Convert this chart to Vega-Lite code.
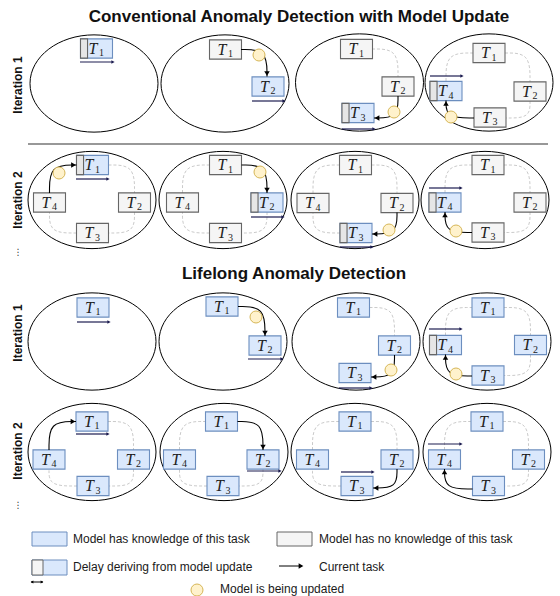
{
"$schema": "https://vega.github.io/schema/vega-lite/v6.json",
"width": 560, "height": 596, "padding": 0,
"autosize": {"type": "none"},
"background": "white",
"config": {"view": {"stroke": null}},
"datasets": {
"sep": [{"x": 28, "x2": 548, "y": 144}],
"ell": [
{"x":94,"y":83.5},{"x":225,"y":83.5},{"x":359.5,"y":82.5},{"x":489,"y":82.5},
{"x":92,"y":200},{"x":223,"y":200},{"x":355,"y":200},{"x":485,"y":200},
{"x":92,"y":341.5},{"x":223,"y":341.5},{"x":356,"y":341.5},{"x":487,"y":341.5},
{"x":92,"y":452},{"x":224,"y":452},{"x":355,"y":452},{"x":487,"y":452}],
"box": [
{"x":96.5,"y":48.5,"n":"1","k":"y","d":1},
{"x":225.5,"y":49.5,"n":"1","k":"n","d":0},{"x":268,"y":86.5,"n":"2","k":"y","d":0},
{"x":356.5,"y":49,"n":"1","k":"n","d":0},{"x":398,"y":86.5,"n":"2","k":"n","d":0},{"x":358,"y":113,"n":"3","k":"y","d":1},
{"x":489,"y":53,"n":"1","k":"n","d":0},{"x":530,"y":91.5,"n":"2","k":"n","d":0},{"x":490,"y":117.5,"n":"3","k":"n","d":0},{"x":446,"y":91,"n":"4","k":"y","d":1},
{"x":92.5,"y":165,"n":"1","k":"y","d":1},{"x":134.5,"y":202.5,"n":"2","k":"n","d":0},{"x":92.5,"y":233,"n":"3","k":"n","d":0},{"x":49.5,"y":202.5,"n":"4","k":"n","d":0},
{"x":225.5,"y":165,"n":"1","k":"n","d":0},{"x":267,"y":202.5,"n":"2","k":"y","d":1},{"x":225.5,"y":233,"n":"3","k":"n","d":0},{"x":182.5,"y":202.5,"n":"4","k":"n","d":0},
{"x":355.5,"y":165,"n":"1","k":"n","d":0},{"x":397,"y":203,"n":"2","k":"n","d":0},{"x":356,"y":233,"n":"3","k":"y","d":1},{"x":313,"y":203,"n":"4","k":"n","d":0},
{"x":488,"y":165,"n":"1","k":"n","d":0},{"x":530,"y":202.5,"n":"2","k":"n","d":0},{"x":488,"y":232.5,"n":"3","k":"n","d":0},{"x":445,"y":202.5,"n":"4","k":"y","d":1},
{"x":93,"y":307.5,"n":"1","k":"y","d":0},
{"x":222,"y":306.5,"n":"1","k":"y","d":0},{"x":265,"y":345.5,"n":"2","k":"y","d":0},
{"x":353.5,"y":307.5,"n":"1","k":"y","d":0},{"x":394.5,"y":345.5,"n":"2","k":"y","d":0},{"x":355,"y":373,"n":"3","k":"y","d":0},
{"x":488,"y":307.5,"n":"1","k":"y","d":0},{"x":530.5,"y":345,"n":"2","k":"y","d":0},{"x":488,"y":375.5,"n":"3","k":"y","d":0},{"x":445.5,"y":345,"n":"4","k":"y","d":1},
{"x":92,"y":421.5,"n":"1","k":"y","d":0},{"x":133.5,"y":459.5,"n":"2","k":"y","d":0},{"x":93,"y":486,"n":"3","k":"y","d":0},{"x":49,"y":459.5,"n":"4","k":"y","d":0},
{"x":221.5,"y":421.5,"n":"1","k":"y","d":0},{"x":263,"y":459.5,"n":"2","k":"y","d":0},{"x":223,"y":486,"n":"3","k":"y","d":0},{"x":179.5,"y":459.5,"n":"4","k":"y","d":0},
{"x":355,"y":421.5,"n":"1","k":"y","d":0},{"x":397,"y":459.5,"n":"2","k":"y","d":0},{"x":357,"y":486,"n":"3","k":"y","d":0},{"x":312.5,"y":459.5,"n":"4","k":"y","d":0},
{"x":487,"y":421.5,"n":"1","k":"y","d":0},{"x":528.5,"y":459.5,"n":"2","k":"y","d":0},{"x":488.5,"y":486,"n":"3","k":"y","d":0},{"x":444.5,"y":459.5,"n":"4","k":"y","d":0}],
"dash": [
{"id":"d1","o":0,"x":372,"y":49},{"id":"d1","o":1,"x":398,"y":49},{"id":"d1","o":2,"x":398,"y":77},
{"id":"d2","o":0,"x":446,"y":81},{"id":"d2","o":1,"x":446,"y":53},{"id":"d2","o":2,"x":473,"y":53},
{"id":"d3","o":0,"x":505,"y":53},{"id":"d3","o":1,"x":530,"y":53},{"id":"d3","o":2,"x":530,"y":82},
{"id":"d4","o":0,"x":530,"y":101},{"id":"d4","o":1,"x":530,"y":118},{"id":"d4","o":2,"x":506,"y":118},
{"id":"d5","o":0,"x":108.5,"y":165},{"id":"d5","o":1,"x":134.5,"y":165},{"id":"d5","o":2,"x":134.5,"y":193},
{"id":"d6","o":0,"x":134.5,"y":212},{"id":"d6","o":1,"x":134.5,"y":233},{"id":"d6","o":2,"x":108.5,"y":233},
{"id":"d7","o":0,"x":76.5,"y":233},{"id":"d7","o":1,"x":49.5,"y":233},{"id":"d7","o":2,"x":49.5,"y":212},
{"id":"d8","o":0,"x":182.5,"y":193},{"id":"d8","o":1,"x":182.5,"y":165},{"id":"d8","o":2,"x":209.5,"y":165},
{"id":"d9","o":0,"x":267,"y":212},{"id":"d9","o":1,"x":267,"y":233},{"id":"d9","o":2,"x":241.5,"y":233},
{"id":"d10","o":0,"x":209.5,"y":233},{"id":"d10","o":1,"x":182.5,"y":233},{"id":"d10","o":2,"x":182.5,"y":212},
{"id":"d11","o":0,"x":313,"y":193.5},{"id":"d11","o":1,"x":313,"y":165},{"id":"d11","o":2,"x":339.5,"y":165},
{"id":"d12","o":0,"x":371.5,"y":165},{"id":"d12","o":1,"x":397,"y":165},{"id":"d12","o":2,"x":397,"y":193.5},
{"id":"d13","o":0,"x":340,"y":233},{"id":"d13","o":1,"x":313,"y":233},{"id":"d13","o":2,"x":313,"y":212.5},
{"id":"d14","o":0,"x":445,"y":193},{"id":"d14","o":1,"x":445,"y":165},{"id":"d14","o":2,"x":472,"y":165},
{"id":"d15","o":0,"x":504,"y":165},{"id":"d15","o":1,"x":530,"y":165},{"id":"d15","o":2,"x":530,"y":193},
{"id":"d16","o":0,"x":530,"y":212},{"id":"d16","o":1,"x":530,"y":232.5},{"id":"d16","o":2,"x":504,"y":232.5},
{"id":"d17","o":0,"x":369.5,"y":307.5},{"id":"d17","o":1,"x":394.5,"y":307.5},{"id":"d17","o":2,"x":394.5,"y":336},
{"id":"d18","o":0,"x":445.5,"y":335.5},{"id":"d18","o":1,"x":445.5,"y":307.5},{"id":"d18","o":2,"x":472,"y":307.5},
{"id":"d19","o":0,"x":504,"y":307.5},{"id":"d19","o":1,"x":530.5,"y":307.5},{"id":"d19","o":2,"x":530.5,"y":335.5},
{"id":"d20","o":0,"x":530.5,"y":354.5},{"id":"d20","o":1,"x":530.5,"y":375.5},{"id":"d20","o":2,"x":504,"y":375.5},
{"id":"d21","o":0,"x":108,"y":421.5},{"id":"d21","o":1,"x":133.5,"y":421.5},{"id":"d21","o":2,"x":133.5,"y":450},
{"id":"d22","o":0,"x":133.5,"y":469},{"id":"d22","o":1,"x":133.5,"y":486},{"id":"d22","o":2,"x":109,"y":486},
{"id":"d23","o":0,"x":77,"y":486},{"id":"d23","o":1,"x":49,"y":486},{"id":"d23","o":2,"x":49,"y":469},
{"id":"d24","o":0,"x":179.5,"y":450},{"id":"d24","o":1,"x":179.5,"y":421.5},{"id":"d24","o":2,"x":205.5,"y":421.5},
{"id":"d25","o":0,"x":263,"y":469},{"id":"d25","o":1,"x":263,"y":486},{"id":"d25","o":2,"x":239,"y":486},
{"id":"d26","o":0,"x":207,"y":486},{"id":"d26","o":1,"x":179.5,"y":486},{"id":"d26","o":2,"x":179.5,"y":469},
{"id":"d27","o":0,"x":312.5,"y":450},{"id":"d27","o":1,"x":312.5,"y":421.5},{"id":"d27","o":2,"x":339,"y":421.5},
{"id":"d28","o":0,"x":371,"y":421.5},{"id":"d28","o":1,"x":397,"y":421.5},{"id":"d28","o":2,"x":397,"y":450},
{"id":"d29","o":0,"x":341,"y":486},{"id":"d29","o":1,"x":312.5,"y":486},{"id":"d29","o":2,"x":312.5,"y":469},
{"id":"d30","o":0,"x":444.5,"y":450},{"id":"d30","o":1,"x":444.5,"y":421.5},{"id":"d30","o":2,"x":471,"y":421.5},
{"id":"d31","o":0,"x":503,"y":421.5},{"id":"d31","o":1,"x":528.5,"y":421.5},{"id":"d31","o":2,"x":528.5,"y":450},
{"id":"d32","o":0,"x":528.5,"y":469},{"id":"d32","o":1,"x":528.5,"y":486},{"id":"d32","o":2,"x":504.5,"y":486}],
"arr": [
{"id":"a1","o":0,"x":241,"y":49.5},{"id":"a1","o":1,"x":267,"y":49.5},{"id":"a1","o":2,"x":267,"y":76.5},
{"id":"a2","o":0,"x":398,"y":96},{"id":"a2","o":1,"x":398,"y":118},{"id":"a2","o":2,"x":374,"y":118},
{"id":"a3","o":0,"x":474,"y":118},{"id":"a3","o":1,"x":446,"y":118},{"id":"a3","o":2,"x":446,"y":100.5},
{"id":"a4","o":0,"x":49.5,"y":193},{"id":"a4","o":1,"x":49.5,"y":165},{"id":"a4","o":2,"x":76.5,"y":165},
{"id":"a5","o":0,"x":241.5,"y":165},{"id":"a5","o":1,"x":267,"y":165},{"id":"a5","o":2,"x":267,"y":193},
{"id":"a6","o":0,"x":397,"y":212.5},{"id":"a6","o":1,"x":397,"y":234},{"id":"a6","o":2,"x":372,"y":234},
{"id":"a7","o":0,"x":472,"y":232.5},{"id":"a7","o":1,"x":445,"y":232.5},{"id":"a7","o":2,"x":445,"y":212},
{"id":"a8","o":0,"x":238,"y":306.5},{"id":"a8","o":1,"x":265,"y":306.5},{"id":"a8","o":2,"x":265,"y":336},
{"id":"a9","o":0,"x":394.5,"y":355},{"id":"a9","o":1,"x":394.5,"y":377},{"id":"a9","o":2,"x":371,"y":377},
{"id":"a10","o":0,"x":472,"y":376},{"id":"a10","o":1,"x":445.5,"y":376},{"id":"a10","o":2,"x":445.5,"y":354.5},
{"id":"a11","o":0,"x":49,"y":450},{"id":"a11","o":1,"x":49,"y":421.5},{"id":"a11","o":2,"x":76,"y":421.5},
{"id":"a12","o":0,"x":237.5,"y":421.5},{"id":"a12","o":1,"x":263,"y":421.5},{"id":"a12","o":2,"x":263,"y":450},
{"id":"a13","o":0,"x":397,"y":469},{"id":"a13","o":1,"x":397,"y":488},{"id":"a13","o":2,"x":373,"y":488},
{"id":"a14","o":0,"x":472.5,"y":489},{"id":"a14","o":1,"x":444.5,"y":489},{"id":"a14","o":2,"x":444.5,"y":469}],
"heads": [
{"x":267,"y":73.5,"s":"triangle-down"},{"x":377,"y":118,"s":"triangle-left"},{"x":446,"y":103.5,"s":"triangle-up"},
{"x":73.5,"y":165,"s":"triangle-right"},{"x":267,"y":190,"s":"triangle-down"},{"x":375,"y":234,"s":"triangle-left"},{"x":445,"y":215,"s":"triangle-up"},
{"x":265,"y":333,"s":"triangle-down"},{"x":374,"y":377,"s":"triangle-left"},{"x":445.5,"y":357.5,"s":"triangle-up"},
{"x":73,"y":421.5,"s":"triangle-right"},{"x":263,"y":447,"s":"triangle-down"},{"x":376,"y":488,"s":"triangle-left"},{"x":444.5,"y":472,"s":"triangle-up"},
{"x":301,"y":566,"s":"triangle-right"}],
"dots": [
{"x":259,"y":55},{"x":394,"y":112},{"x":451,"y":117},
{"x":59,"y":173},{"x":260,"y":172},{"x":389,"y":230},{"x":456,"y":231},
{"x":256,"y":317},{"x":391,"y":370},{"x":456,"y":374},
{"x":197,"y":590}],
"cur": [
{"x":80,"x2":113,"y":62},{"x":252,"x2":284,"y":101},{"x":342,"x2":374,"y":129},{"x":430,"x2":462,"y":76},
{"x":76,"x2":108,"y":179},{"x":251,"x2":283,"y":217},{"x":340,"x2":372,"y":247},{"x":429,"x2":461,"y":188},
{"x":77,"x2":109,"y":322},{"x":248,"x2":282,"y":359},{"x":339,"x2":371,"y":388},{"x":429,"x2":461,"y":329},
{"x":76,"x2":108,"y":434},{"x":247,"x2":280,"y":471},{"x":341,"x2":373,"y":472},{"x":428,"x2":461,"y":444}],
"titles": [
{"x":299,"y":17,"t":"Conventional Anomaly Detection with Model Update"},
{"x":294,"y":274,"t":"Lifelong Anomaly Detection"}],
"iters": [
{"x":18,"y":85,"t":"Iteration 1"},{"x":18,"y":200,"t":"Iteration 2"},
{"x":18,"y":333,"t":"Iteration 1"},{"x":18,"y":451,"t":"Iteration 2"}],
"vdots": [{"x":18,"y":252,"t":"⋮"},{"x":18,"y":505,"t":"⋮"}],
"lrect": [
{"x":32,"x2":67,"y":532,"y2":546,"k":"y"},
{"x":277,"x2":312,"y":532,"y2":546,"k":"n"},
{"x":32,"x2":67,"y":560,"y2":575,"k":"y"},
{"x":32,"x2":43,"y":560,"y2":575,"k":"n"}],
"ltext": [
{"x":73,"y":539,"t":"Model has knowledge of this task"},
{"x":319,"y":539,"t":"Model has no knowledge of this task"},
{"x":73,"y":567,"t":"Delay deriving from model update"},
{"x":319,"y":567,"t":"Current task"},
{"x":220,"y":589,"t":"Model is being updated"}],
"lrule": [{"x":279,"x2":302,"y":566},{"x":31,"x2":43,"y":582}],
"lsmall": [{"x":32,"y":582,"s":"triangle-left"},{"x":42,"y":582,"s":"triangle-right"}]
},
"encoding": {
"x": {"field":"x","type":"quantitative","scale":{"domain":[0,560],"nice":false,"zero":false},"axis":null},
"y": {"field":"y","type":"quantitative","scale":{"domain":[0,596],"nice":false,"zero":false,"reverse":true},"axis":null}
},
"layer": [
{"data":{"name":"sep"},"mark":{"type":"rule","color":"#333333","strokeWidth":1.2},"encoding":{"x2":{"field":"x2"}}},
{"data":{"name":"ell"},"mark":{"type":"point","shape":"M-1,0C-1,-0.42,-0.552,-0.76,0,-0.76C0.552,-0.76,1,-0.42,1,0C1,0.42,0.552,0.76,0,0.76C-0.552,0.76,-1,0.42,-1,0Z","size":16384,"filled":false,"stroke":"#000000","strokeWidth":1,"opacity":1}},
{"data":{"name":"dash"},"mark":{"type":"line","interpolate":"basis","color":"#bdbdbd","strokeWidth":0.8,"strokeDash":[3,2]},"encoding":{"detail":{"field":"id"},"order":{"field":"o","type":"quantitative"}}},
{"data":{"name":"box"},"mark":{"type":"point","shape":"M-1,-0.6L1,-0.6L1,0.6L-1,0.6Z","size":1024,"filled":true,"opacity":1,"strokeWidth":1.1},
 "encoding":{"fill":{"condition":{"test":"datum.k=='y'","value":"#dae8fc"},"value":"#f5f5f5"},"stroke":{"condition":{"test":"datum.k=='y'","value":"#6c8ebf"},"value":"#666666"}}},
{"data":{"name":"box"},"transform":[{"filter":"datum.d==1"}],"mark":{"type":"point","shape":"M-1,-0.6L-0.56,-0.6L-0.56,0.6L-1,0.6Z","size":1024,"filled":true,"opacity":1,"fill":"#e6e6e6","stroke":"#666666","strokeWidth":1.1}},
{"data":{"name":"arr"},"mark":{"type":"line","interpolate":"basis","color":"#000000","strokeWidth":1.1},"encoding":{"detail":{"field":"id"},"order":{"field":"o","type":"quantitative"}}},
{"data":{"name":"dots"},"mark":{"type":"point","shape":"circle","size":144,"filled":true,"opacity":1,"fill":"#fff2cc","stroke":"#d6b656","strokeWidth":1}},
{"data":{"name":"heads"},"mark":{"type":"point","filled":true,"opacity":1,"size":30,"color":"#000000"},"encoding":{"shape":{"field":"s","type":"nominal","scale":null}}},
{"data":{"name":"cur"},"mark":{"type":"rule","color":"#1c1c50","strokeWidth":1.2},"encoding":{"x2":{"field":"x2"}}},
{"data":{"name":"cur"},"mark":{"type":"point","shape":"triangle-right","filled":true,"opacity":1,"size":14,"color":"#1c1c50"},"encoding":{"x":{"field":"x2","type":"quantitative"}}},
{"data":{"name":"box"},"mark":{"type":"text","text":"T","font":"Liberation Serif","fontStyle":"italic","fontSize":16,"dx":-3.5,"baseline":"middle","align":"center","color":"#222222"}},
{"data":{"name":"box"},"mark":{"type":"text","font":"Liberation Serif","fontSize":10,"dx":5,"dy":4.5,"baseline":"middle","align":"center","color":"#222222"},"encoding":{"text":{"field":"n"}}},
{"data":{"name":"titles"},"mark":{"type":"text","font":"Liberation Sans","fontWeight":"bold","fontSize":17,"baseline":"middle","align":"center","color":"#111111"},"encoding":{"text":{"field":"t"}}},
{"data":{"name":"iters"},"mark":{"type":"text","font":"Liberation Sans","fontWeight":"bold","fontSize":12,"angle":270,"baseline":"middle","align":"center","color":"#111111"},"encoding":{"text":{"field":"t"}}},
{"data":{"name":"vdots"},"mark":{"type":"text","font":"DejaVu Sans","fontSize":9,"baseline":"middle","align":"center","color":"#333333"},"encoding":{"text":{"field":"t"}}},
{"data":{"name":"lrect"},"mark":{"type":"rect","strokeWidth":1},"encoding":{"x2":{"field":"x2"},"y2":{"field":"y2"},"fill":{"condition":{"test":"datum.k=='y'","value":"#dae8fc"},"value":"#f5f5f5"},"stroke":{"condition":{"test":"datum.k=='y'","value":"#6c8ebf"},"value":"#666666"}}},
{"data":{"name":"ltext"},"mark":{"type":"text","font":"Liberation Sans","fontSize":12,"baseline":"middle","align":"left","color":"#1a1a1a"},"encoding":{"text":{"field":"t"}}},
{"data":{"name":"lrule"},"mark":{"type":"rule","color":"#000000","strokeWidth":1},"encoding":{"x2":{"field":"x2"}}},
{"data":{"name":"lsmall"},"mark":{"type":"point","filled":true,"opacity":1,"size":10,"color":"#000000"},"encoding":{"shape":{"field":"s","type":"nominal","scale":null}}}
]
}
